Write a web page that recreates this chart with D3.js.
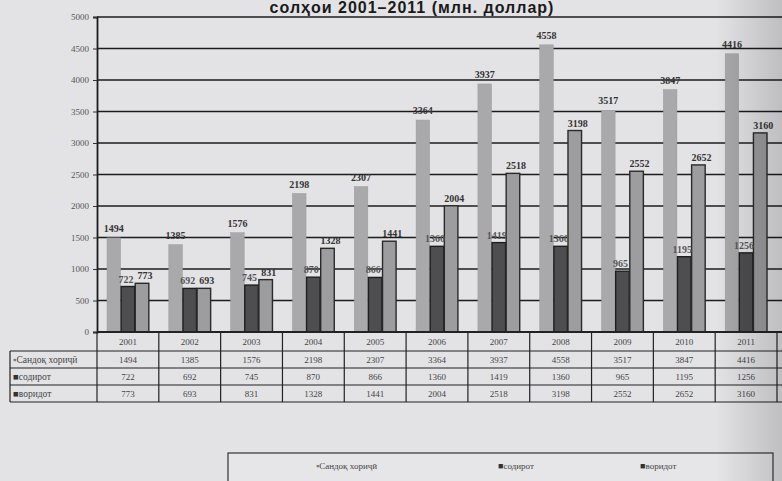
<!DOCTYPE html>
<html><head><meta charset="utf-8">
<script src="https://cdn.jsdelivr.net/npm/d3@7"></script>
<style>
html,body{margin:0;padding:0;background:#e3e3e6;}
svg{display:block;}
</style></head>
<body>
<svg id="c" width="782" height="481"></svg>
<script>
const title = "солҳои 2001–2011 (млн. доллар)";
const years = ["2001","2002","2003","2004","2005","2006","2007","2008","2009","2010","2011"];
const seriesNames = ["Сандоқ хориҷӣ","содирот","воридот"];
const turnover = [1494,1385,1576,2198,2307,3364,3937,4558,3517,3847,4416];
const exportsV = [722,692,745,870,866,1360,1419,1360,965,1195,1256];
const importsV = [773,693,831,1328,1441,2004,2518,3198,2552,2652,3160];
const yTicks = [0,500,1000,1500,2000,2500,3000,3500,4000,4500,5000];

(function(){
const seriesValues = [turnover, exportsV, importsV];
const fills = ["#a9a9ab","#4e4e50","#9d9d9f"];
const strokes = ["#9a9a9c","#1e1e1e","#2a2a2a"];
const markers = ["▪","■","■"];

const svg = d3.select("#c");
const W = 782, H = 481;
const pL = 97, pR = 777, pT = 17, pB = 332;

svg.append("rect").attr("width",W).attr("height",H).attr("fill","#e3e3e6");

const x = d3.scaleBand().domain(years).range([pL,pR]).padding(0);
const xs = d3.scaleBand().domain(seriesNames).range([10, x.bandwidth()-10]).paddingInner(0.04);
const y = d3.scaleLinear().domain([0,5000]).range([pB,pT]);

// title
svg.append("text").attr("x",412).attr("y",13).attr("text-anchor","middle")
  .attr("font-family","Liberation Sans, Arial, sans-serif").attr("font-weight","bold")
  .attr("font-size",16).attr("letter-spacing",1).attr("fill","#1a1a1a").text(title);

// gridlines
svg.append("g").selectAll("line").data(yTicks.filter(d=>d>0)).join("line")
  .attr("x1",pL).attr("x2",W).attr("y1",d=>y(d)).attr("y2",d=>y(d))
  .attr("stroke","#1c1c1c").attr("stroke-width",1.6);

// y axis
const yAxis = d3.axisLeft(y).tickValues(yTicks).tickFormat(d3.format("d")).tickSize(4).tickPadding(4);
const gy = svg.append("g").attr("transform",`translate(${pL},0)`).call(yAxis);
gy.select(".domain").attr("stroke","#1c1c1c").attr("stroke-width",1.8);
gy.selectAll(".tick line").attr("stroke","#333");
gy.selectAll("text").attr("font-family","Liberation Serif, serif").attr("font-size",9)
  .attr("fill","#555");

// bars
const gBars = svg.append("g");
seriesNames.forEach((s,si)=>{
  const g = gBars.append("g");
  g.selectAll("rect").data(years).join("rect")
    .attr("x",d=>x(d)+xs(s)).attr("width",xs.bandwidth())
    .attr("y",(d,i)=>y(seriesValues[si][i])).attr("height",(d,i)=>y(0)-y(seriesValues[si][i]))
    .attr("fill",fills[si]).attr("stroke",strokes[si]).attr("stroke-width",si===0?0.5:1.4);
});
// labels
seriesNames.forEach((s,si)=>{
  gBars.append("g").selectAll("text").data(years).join("text")
    .attr("x",d=>x(d)+xs(s)+xs.bandwidth()/2 + (si===1?-2:si===2?3:0))
    .attr("y",(d,i)=>y(seriesValues[si][i])-(si===0?6:4))
    .attr("text-anchor","middle").attr("font-family","Liberation Serif, serif")
    .attr("font-weight","bold").attr("font-size",10).attr("fill",si===1?"#555":"#333")
    .text((d,i)=>seriesValues[si][i]);
});

// table
const rowY = [332,351,368,385,402];
const tbl = svg.append("g").attr("stroke","#222").attr("stroke-width",1.2).attr("fill","none");
tbl.append("line").attr("x1",pL).attr("x2",W).attr("y1",rowY[0]).attr("y2",rowY[0]).attr("stroke-width",1.8);
rowY.slice(1).forEach(yy=>tbl.append("line").attr("x1",10).attr("x2",W).attr("y1",yy).attr("y2",yy));
tbl.append("line").attr("x1",10).attr("x2",10).attr("y1",rowY[1]).attr("y2",rowY[4]);
years.forEach(yr=>tbl.append("line").attr("x1",x(yr)).attr("x2",x(yr)).attr("y1",rowY[0]).attr("y2",rowY[4]));
tbl.append("line").attr("x1",pR).attr("x2",pR).attr("y1",rowY[0]).attr("y2",rowY[4]);

const tf = svg.append("g").attr("font-family","Liberation Serif, serif").attr("font-size",9).attr("fill","#444");
tf.selectAll(".yr").data(years).join("text").attr("class","yr")
  .attr("x",d=>x(d)+x.bandwidth()/2).attr("y",(rowY[0]+rowY[1])/2+3).attr("text-anchor","middle").text(d=>d);
seriesNames.forEach((s,si)=>{
  const cy = (rowY[si+1]+rowY[si+2])/2+3;
  tf.append("g").selectAll("text").data(years).join("text")
    .attr("x",d=>x(d)+x.bandwidth()/2).attr("y",cy).attr("text-anchor","middle")
    .text((d,i)=>seriesValues[si][i]);
  const lab = tf.append("text").attr("x",13).attr("y",cy).attr("font-size",9.5);
  lab.append("tspan").attr("fill",si===0?"#777":"#333").text(markers[si]);
  lab.append("tspan").text(s);
});

// legend
const lg = svg.append("g");
lg.append("rect").attr("x",228).attr("y",453).attr("width",545).attr("height",40)
  .attr("fill","#e6e6e8").attr("stroke","#333").attr("stroke-width",1.2);
const legX = [316,498,640];
seriesNames.forEach((s,si)=>{
  const t = lg.append("text").attr("x",legX[si]).attr("y",469)
    .attr("font-family","Liberation Serif, serif").attr("font-size",9).attr("fill","#444");
  t.append("tspan").attr("fill",si===0?"#777":"#333").text(markers[si]);
  t.append("tspan").text(s);
});

// right-edge shadow of the photo
const defs = svg.append("defs");
const grad = defs.append("linearGradient").attr("id","sh").attr("x1","0").attr("x2","1");
grad.append("stop").attr("offset","0").attr("stop-color","#000").attr("stop-opacity",0);
grad.append("stop").attr("offset","1").attr("stop-color","#000").attr("stop-opacity",0.16);
svg.append("rect").attr("x",715).attr("y",0).attr("width",67).attr("height",H).attr("fill","url(#sh)");
})();
</script>
</body></html>
